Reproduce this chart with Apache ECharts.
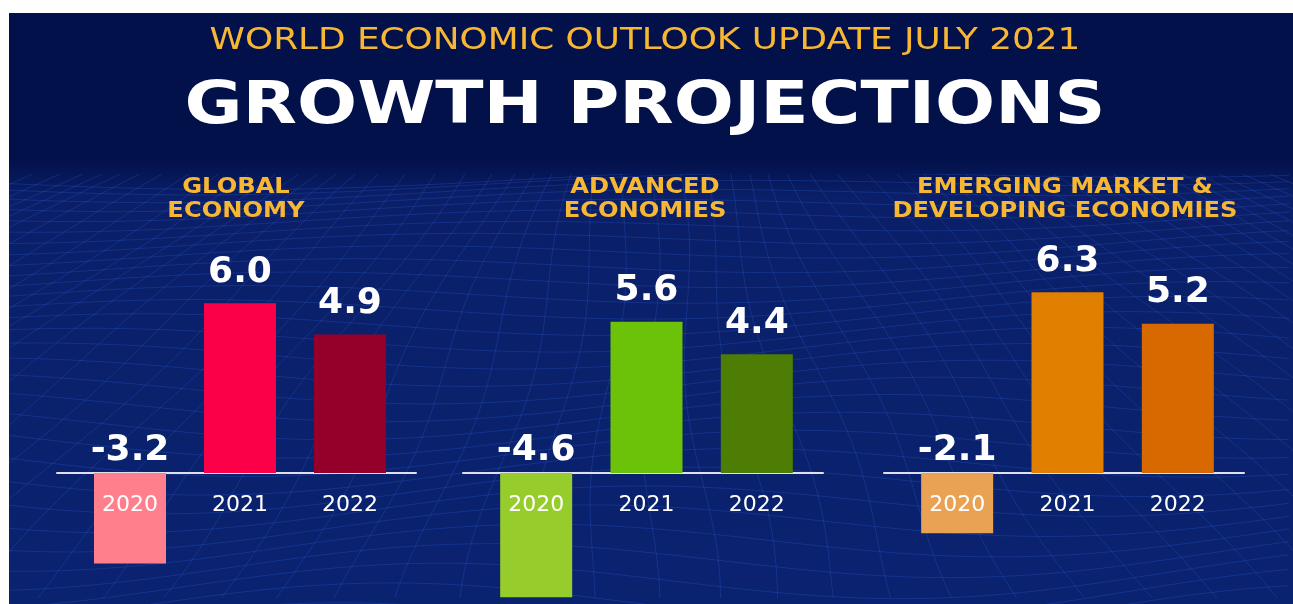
<!DOCTYPE html>
<html>
<head>
<meta charset="utf-8">
<script src="https://cdn.jsdelivr.net/npm/echarts@6/dist/echarts.min.js"></script>
<style>
html, body { margin: 0; padding: 0; background: #fff; }
#chart { width: 1293px; height: 604px; }
</style>
</head>
<body>
<div id="chart"></div>
<script>
var years = ['2020', '2021', '2022'];
var globalGrowth = [-3.2, 6.0, 4.9];
var advancedGrowth = [-4.6, 5.6, 4.4];
var emergingGrowth = [-2.1, 6.3, 5.2];
var panelTitles = ['GLOBAL\nECONOMY', 'ADVANCED\nECONOMIES', 'EMERGING MARKET &\nDEVELOPING ECONOMIES'];
var globalColors = ['#ff808c', '#fb0049', '#95002b'];
var advancedColors = ['#96cd2d', '#6cc209', '#4e7d05'];
var emergingColors = ['#e9a154', '#e07f00', '#d86800'];
// each panel has its own value range (the source scales them slightly differently)
var panelMin = [-4.63, -4.85, -4.56];
var panelMax = [6.93, 7.26, 6.83];

var dom = document.getElementById('chart');
var myChart = echarts.init(dom, null, { renderer: 'canvas' });

// wireframe backdrop (decoration only)
function buildMesh(w, h) {
    var canvas = document.createElement('canvas');
    canvas.width = w;
    canvas.height = h;
    var ctx = canvas.getContext('2d');
    ctx.strokeStyle = 'rgba(50,100,225,0.26)';
    ctx.lineWidth = 1;
    for (var k = 0; k < 60; k++) {
        var base = Math.pow(k, 1.35) * 4.5;
        if (base > h + 40) break;
        ctx.beginPath();
        for (var x = 0; x <= w; x += 8) {
            var y = base + (6 + k * 0.6) * Math.sin(x / 160 + k * 0.3) + 10 * Math.sin(x / 430 + 1.3);
            if (x === 0) ctx.moveTo(x, y); else ctx.lineTo(x, y);
        }
        ctx.stroke();
    }
    for (var j = -60; j <= 60; j++) {
        ctx.beginPath();
        for (var yy = 0; yy <= h; yy += 8) {
            var t = yy / h;
            var xx = w / 2 + j * 24 * (1 + t * 1.6) + 9 * Math.sin(yy / 55 + j * 0.7);
            if (yy === 0) ctx.moveTo(xx, yy); else ctx.lineTo(xx, yy);
        }
        ctx.stroke();
    }
    return canvas;
}

var gTop = 277, gHeight = 327;

var barGrids = [
    { left: 75, top: gTop, width: 330, height: gHeight, outerBoundsMode: 'none' },
    { left: 481, top: gTop, width: 331, height: gHeight, outerBoundsMode: 'none' },
    { left: 902, top: gTop, width: 331, height: gHeight, outerBoundsMode: 'none' }
];
var lineGrids = [
    { left: 57, top: gTop, width: 359, height: gHeight, outerBoundsMode: 'none' },
    { left: 463, top: gTop, width: 360, height: gHeight, outerBoundsMode: 'none' },
    { left: 884, top: gTop, width: 360, height: gHeight, outerBoundsMode: 'none' }
];

function makeData(values, colors) {
    return values.map(function (v, i) {
        return {
            value: v,
            itemStyle: { color: colors[i] },
            label: { distance: v < 0 ? 4 : 13 }
        };
    });
}

var seriesSets = [
    makeData(globalGrowth, globalColors),
    makeData(advancedGrowth, advancedColors),
    makeData(emergingGrowth, emergingColors)
];

var grid = [], xAxis = [], yAxis = [], series = [];
barGrids.forEach(function (g, i) {
    // distance from grid bottom up to the zero line, for the year labels
    var zeroOffset = -gHeight * (0 - panelMin[i]) / (panelMax[i] - panelMin[i]);
    grid.push(g);
    xAxis.push({
        type: 'category', gridIndex: i, data: years, z: 10,
        position: 'bottom', offset: zeroOffset,
        axisLine: { show: false, onZero: false },
        axisTick: { show: false },
        axisLabel: { color: '#ffffff', fontSize: 22, fontFamily: 'DejaVu Sans', margin: 21 }
    });
    yAxis.push({ type: 'value', gridIndex: i, min: panelMin[i], max: panelMax[i], show: false });
    series.push({
        type: 'bar', xAxisIndex: i, yAxisIndex: i, barWidth: 72,
        label: {
            show: true, position: 'top', color: '#ffffff',
            fontSize: 36, fontWeight: 'bold', fontFamily: 'DejaVu Sans',
            formatter: function (p) { return p.value.toFixed(1); }
        },
        data: seriesSets[i]
    });
});
lineGrids.forEach(function (g, i) {
    var idx = i + 3;
    grid.push(g);
    xAxis.push({
        type: 'category', gridIndex: idx, data: [''],
        axisLine: { onZero: true, lineStyle: { color: '#dfe0ea', width: 2 } },
        axisTick: { show: false }, axisLabel: { show: false }
    });
    yAxis.push({ type: 'value', gridIndex: idx, min: panelMin[i], max: panelMax[i], show: false });
});

var titleCenters = [236, 645, 1065];
var graphic = [
    { type: 'rect', z: -10, shape: { x: 9, y: 13, width: 1284, height: 591 }, style: { fill: '#03114b' } },
    {
        type: 'rect', z: -9, shape: { x: 9, y: 160, width: 1284, height: 444 },
        style: {
            fill: new echarts.graphic.LinearGradient(0, 0, 0, 1, [
                { offset: 0, color: 'rgba(3,17,75,1)' },
                { offset: 0.08, color: '#0a1f68' },
                { offset: 1, color: '#0a2370' }
            ])
        }
    },
    { type: 'image', z: -8, style: { image: buildMesh(1284, 430), x: 9, y: 174, width: 1284, height: 430 } },
    {
        type: 'text', z: 10, x: 645, y: 25, scaleX: 1.155,
        style: { text: 'WORLD ECONOMIC OUTLOOK UPDATE JULY 2021', fill: '#f7b733', font: '31px "DejaVu Sans"', textAlign: 'center', textVerticalAlign: 'top' }
    },
    {
        type: 'text', z: 10, x: 645, y: 79, scaleX: 1.22,
        style: { text: 'GROWTH PROJECTIONS', fill: '#ffffff', font: 'bold 58px "DejaVu Sans"', textAlign: 'center', textVerticalAlign: 'top' }
    }
];
panelTitles.forEach(function (t, i) {
    graphic.push({
        type: 'text', z: 10, x: titleCenters[i], y: 175, scaleX: 1.1,
        style: { text: t, fill: '#f7b733', font: 'bold 22px "DejaVu Sans"', lineHeight: 24, textAlign: 'center', textVerticalAlign: 'top' }
    });
});

var option = {
    backgroundColor: '#ffffff',
    animation: false,
    grid: grid,
    xAxis: xAxis,
    yAxis: yAxis,
    series: series,
    graphic: graphic
};
if (option && typeof option === "object") {
    myChart.setOption(option, true);
}
</script>
</body>
</html>
